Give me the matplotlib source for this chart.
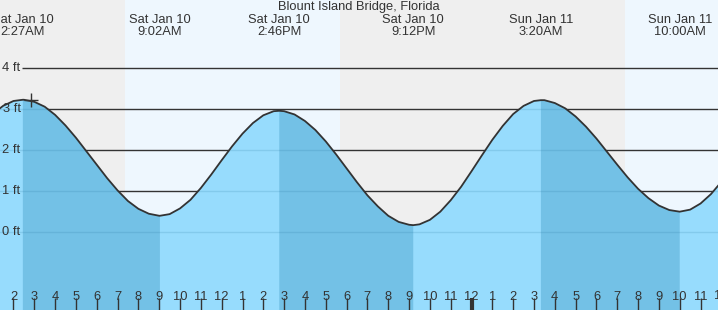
import numpy as np
import matplotlib
matplotlib.use("Agg")
import matplotlib.pyplot as plt
import matplotlib.transforms as mtransforms

plt.rcParams['font.family'] = ['Liberation Sans', 'DejaVu Sans']

# ---- data (hours since midnight Sat Jan 10) ----
title = "Blount Island Bridge, Florida"
times = [1, 1.5, 2, 2.45, 2.5, 3, 3.5, 4, 4.5, 5, 5.5, 6, 6.5, 7, 7.5, 8, 8.5, 9, 9.033,
         9.5, 10, 10.5, 11, 11.5, 12, 12.5, 13, 13.5, 14, 14.5, 14.767, 15, 15.5, 16,
         16.5, 17, 17.5, 18, 18.5, 19, 19.5, 20, 20.5, 21, 21.2, 21.5, 22, 22.5, 23,
         23.5, 24, 24.5, 25, 25.5, 26, 26.5, 27, 27.333, 27.5, 28, 28.5, 29, 29.5, 30,
         30.5, 31, 31.5, 32, 32.5, 33, 33.5, 34, 34.5, 35, 35.5, 36]
heights = [2.88, 3.08, 3.20, 3.23, 3.23, 3.18, 3.06, 2.86, 2.60, 2.30, 1.97, 1.64, 1.31,
           1.01, 0.75, 0.56, 0.44, 0.39, 0.39, 0.43, 0.57, 0.78, 1.07, 1.40, 1.75, 2.09,
           2.40, 2.66, 2.85, 2.95, 2.96, 2.95, 2.87, 2.71, 2.49, 2.21, 1.89, 1.55, 1.21,
           0.89, 0.62, 0.39, 0.24, 0.17, 0.16, 0.18, 0.29, 0.49, 0.77, 1.10, 1.48, 1.87,
           2.25, 2.59, 2.88, 3.08, 3.20, 3.22, 3.22, 3.15, 3.02, 2.82, 2.57, 2.28, 1.96,
           1.64, 1.33, 1.05, 0.82, 0.64, 0.53, 0.49, 0.54, 0.69, 0.92, 1.22]

event_times = [2.45, 9.033, 14.767, 21.2, 27.333, 34.0]
event_days = ["Sat Jan 10", "Sat Jan 10", "Sat Jan 10", "Sat Jan 10", "Sun Jan 11", "Sun Jan 11"]
event_labels = ["2:27AM", "9:02AM", "2:46PM", "9:12PM", "3:20AM", "10:00AM"]
high_times = [2.45, 14.767, 27.333]
low_times = [9.033, 21.2, 34.0]

daylight = [(7.37, 17.68), (31.37, 41.68)]
ft_levels = [0, 1, 2, 3, 4]
hour_ticks = list(range(2, 36))
now_time, now_height = 2.83, 3.22

# ---- layout ----
W, H = 718, 310
px_per_hour = 20.82
T0 = 3 - 34.3 / px_per_hour
T1 = T0 + W / px_per_hour
Y0, Y1 = -1.917, 5.672

def xpx(p):
    return T0 + p / px_per_hour

fig = plt.figure(figsize=(W / 100, H / 100), dpi=100)
ax = fig.add_axes([0, 0, 1, 1])
ax.set_xlim(T0, T1)
ax.set_ylim(Y0, Y1)
ax.set_facecolor('#efefef')
for s in ax.spines.values():
    s.set_visible(False)

for s, e in daylight:
    ax.axvspan(s, e, color='#eef7fe', lw=0, zorder=0)

for v in ft_levels[1:]:
    ax.plot([xpx(22), T1], [v, v], color='#333333', lw=1, zorder=1, solid_capstyle='butt')

t = np.array(times)
h = np.array(heights)
poly = ax.fill_between(t, h, Y0, color='#97dcfd', lw=0, zorder=2)
mask = np.zeros(len(t), bool)
for a, b in zip(high_times, low_times):
    mask |= (t >= a) & (t <= b)
ax.fill_between(t, h, Y0, where=mask, color='#73c1e6', lw=0, zorder=3)

clip = poly.get_paths()[0]
for v in ft_levels:
    ln, = ax.plot([T0, T1], [v, v], color='#1f6d96', alpha=0.16, lw=1, zorder=4)
    ln.set_clip_path(clip, ax.transData)

ax.plot(t, h, color='#333333', lw=1.3, zorder=5, solid_joinstyle='round')
ax.plot([now_time], [now_height], marker='+', ms=10, mew=1, color='#333333', zorder=6)

fs = 9.3
tc = '#333333'
for v in ft_levels:
    ax.text(xpx(20.5), v, f"{v} ft", ha='right', va='center', fontsize=fs, color=tc, zorder=7)

blend = mtransforms.blended_transform_factory(ax.transData, ax.transAxes)
for et, d, lab in zip(event_times, event_days, event_labels):
    ax.text(et, 1 - 20 / H, d, transform=blend, ha='center', va='center', fontsize=fs, color=tc)
    ax.text(et, 1 - 32 / H, lab, transform=blend, ha='center', va='center', fontsize=fs, color=tc)
ax.text(0.5, 1 - 7 / H, title, transform=ax.transAxes, ha='center', va='center', fontsize=fs, color=tc)

ax.set_yticks([])
ax.set_xticks(hour_ticks)
ax.set_xticklabels([str(hh % 12 or 12) for hh in hour_ticks])
ax.tick_params(axis='x', direction='in', length=9, width=1, color='#333333',
               pad=-14, labelsize=fs, labelcolor=tc)
ax.xaxis.set_zorder(10)
for tk, hh in zip(ax.xaxis.get_major_ticks(), hour_ticks):
    if hh % 24 == 0:
        tk.tick1line.set_markeredgewidth(3)
ax.text(36, 14 / H, "12", transform=blend, ha='center', va='center', fontsize=fs,
        color=tc, clip_on=False)

fig.savefig("out.png", dpi=100)
